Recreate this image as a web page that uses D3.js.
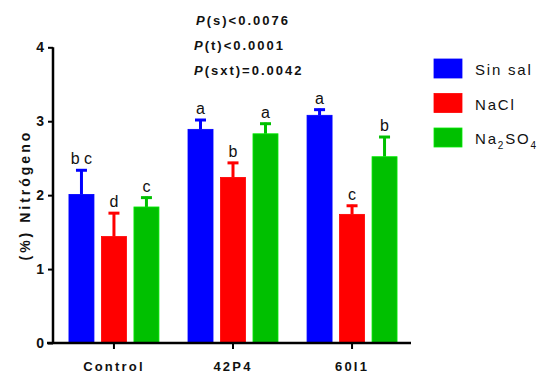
<!DOCTYPE html>
<html>
<head>
<meta charset="utf-8">
<script src="https://cdn.jsdelivr.net/npm/d3@7"></script>
<style>
  body { margin: 0; background: #fff; }
  text { font-family: "Liberation Sans", Arial, sans-serif; }
</style>
</head>
<body>
<svg width="541" height="376"></svg>
<script>
var categories = ["Control", "42P4", "60I1"];
var series = ["Sin sal", "NaCl", "Na2SO4"];
var colors = ["#0000ff", "#ff0000", "#00c000"];
var means = [
  [2.01, 1.44, 1.84],
  [2.89, 2.24, 2.83],
  [3.08, 1.74, 2.52]
];
var errors = [
  [0.34, 0.33, 0.14],
  [0.14, 0.21, 0.15],
  [0.09, 0.13, 0.28]
];
var letters = [
  ["b c", "d", "c"],
  ["a", "b", "a"],
  ["a", "c", "b"]
];
var yTicks = [0, 1, 2, 3, 4];
var pLines = [["P", "(s)<0.0076"], ["P", "(t)<0.0001"], ["P", "(sxt)=0.0042"]];

var svg = d3.select("svg");
var x0 = 53, x1 = 411, yTop = 47.3, yBot = 343;

var y = d3.scaleLinear().domain([0, 4]).range([yBot, yTop]);
var xc = d3.scaleBand().domain(categories).range([x0, 413]).paddingInner(0.244).paddingOuter(0.134);
var xs = d3.scaleBand().domain(series).range([0, xc.bandwidth()]).paddingInner(0.23).paddingOuter(0);

// bars
var groups = svg.append("g").selectAll("g")
  .data(categories).enter().append("g")
  .attr("transform", function(d) { return "translate(" + xc(d) + ",0)"; });

groups.each(function(cat, ci) {
  var g = d3.select(this);
  series.forEach(function(s, si) {
    var v = means[ci][si], e = errors[ci][si];
    var bx = xs(s), bw = xs.bandwidth(), cx = bx + bw / 2;
    // error bar (upper only)
    g.append("line")
      .attr("x1", cx).attr("x2", cx)
      .attr("y1", y(v)).attr("y2", y(v + e))
      .attr("stroke", colors[si]).attr("stroke-width", 3);
    g.append("line")
      .attr("x1", cx - 5.5).attr("x2", cx + 5.5)
      .attr("y1", y(v + e) + 1).attr("y2", y(v + e) + 1)
      .attr("stroke", colors[si]).attr("stroke-width", 3);
    g.append("rect")
      .attr("x", bx).attr("y", y(v))
      .attr("width", bw).attr("height", y(0) - y(v))
      .attr("fill", colors[si])
      .attr("stroke", d3.color(colors[si]).brighter(0.6))
      .attr("stroke-width", 0.8);
    g.append("text")
      .attr("x", cx).attr("y", y(v + e) - 5)
      .attr("text-anchor", "middle")
      .attr("font-size", 16)
      .attr("fill", "#111")
      .text(letters[ci][si]);
  });
});

// y axis
var yAxis = d3.axisLeft(y).tickValues(yTicks).tickSize(5).tickPadding(4).tickFormat(d3.format("d"));
var ya = svg.append("g").attr("transform", "translate(" + x0 + ",0)").call(yAxis);
ya.select(".domain").attr("stroke", "#000").attr("stroke-width", 2.5).attr("d", "M0," + yTop + "V" + yBot);
ya.selectAll(".tick line").attr("stroke", "#000").attr("stroke-width", 2);
ya.selectAll(".tick text").attr("font-size", 14).attr("font-weight", "bold").attr("fill", "#111")
  .style("font-family", "Liberation Sans, Arial, sans-serif");

// x axis
var xAxis = d3.axisBottom(xc).tickSize(6).tickPadding(13);
var xa = svg.append("g").attr("transform", "translate(0," + yBot + ")").call(xAxis);
xa.select(".domain").attr("stroke", "#000").attr("stroke-width", 2.5).attr("d", "M" + (x0 - 6) + ",0H" + x1);
xa.selectAll(".tick line").attr("stroke", "#000").attr("stroke-width", 2);
xa.selectAll(".tick text").attr("font-size", 13).attr("font-weight", "bold").attr("fill", "#111")
  .attr("letter-spacing", 2.2)
  .style("font-family", "Liberation Sans, Arial, sans-serif");

// y label
svg.append("text")
  .attr("transform", "translate(30," + ((yTop + yBot) / 2) + ") rotate(-90)")
  .attr("text-anchor", "middle")
  .attr("font-size", 14).attr("font-weight", "bold").attr("letter-spacing", 3)
  .attr("fill", "#111")
  .text("(%) Nitrógeno");

// p values
var pt = svg.append("g").selectAll("text").data(pLines).enter().append("text")
  .attr("x", function(d, i) { return i === 0 ? 196 : 194; })
  .attr("y", function(d, i) { return 25 + i * 25; })
  .attr("font-size", 13).attr("font-weight", "bold").attr("letter-spacing", 2)
  .attr("fill", "#111");
pt.append("tspan").attr("font-style", "italic").text(function(d) { return d[0]; });
pt.append("tspan").text(function(d) { return d[1]; });

// legend
var lg = svg.append("g").selectAll("g").data(series).enter().append("g")
  .attr("transform", function(d, i) { return "translate(434," + (59 + i * 34.5) + ")"; });
lg.append("rect").attr("width", 28).attr("height", 19)
  .attr("fill", function(d, i) { return colors[i]; })
  .attr("stroke", function(d, i) { return d3.color(colors[i]).brighter(0.6); })
  .attr("stroke-width", 0.8);
lg.each(function(d) {
  var t = d3.select(this).append("text")
    .attr("x", 41).attr("y", 16)
    .attr("font-size", 15).attr("letter-spacing", 1.8).attr("fill", "#111");
  if (d === "Na2SO4") {
    t.append("tspan").text("Na");
    t.append("tspan").attr("font-size", 10).attr("dy", 5).text("2");
    t.append("tspan").attr("dy", -5).text("SO");
    t.append("tspan").attr("font-size", 10).attr("dy", 5).attr("letter-spacing", 0).text("4");
  } else {
    t.text(d);
  }
});
</script>
</body>
</html>
